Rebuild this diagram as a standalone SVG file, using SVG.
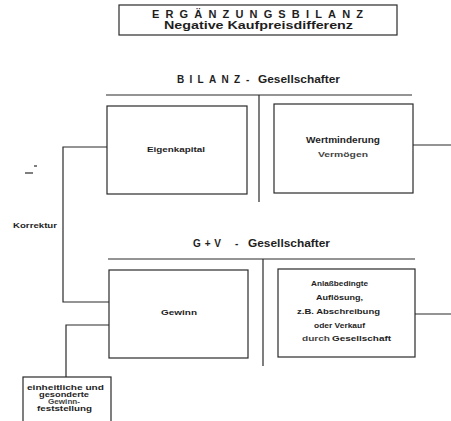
<svg xmlns="http://www.w3.org/2000/svg" width="451" height="421" viewBox="0 0 451 421">
<style>
.bx{fill:#fff;stroke:#2a2a2a;stroke-width:1.2}
.ln{fill:none;stroke:#2a2a2a;stroke-width:1.2}
.t{font-family:"Liberation Sans",Arial,sans-serif;font-weight:bold;fill:#1e1e1e}
.s10{font-size:10px}
.s9{font-size:9px}
.s8{font-size:8px}
.s7{font-size:7px}
.s11{font-size:11px}
.lt{fill:#444}
</style>
<rect width="451" height="421" fill="#fff"/>
<g id="title">
<rect class="bx" x="119" y="5" width="278" height="30"/>
<text class="t s11" x="152" y="18" textLength="211" lengthAdjust="spacing">ERGÄNZUNGSBILANZ</text>
<text class="t s11" x="164" y="29" textLength="189" lengthAdjust="spacingAndGlyphs">Negative Kaufpreisdifferenz</text>
</g>
<g id="heading-bilanz">
<text class="t s10" y="83"><tspan x="177" textLength="63" lengthAdjust="spacing">BILANZ</tspan><tspan x="246">-</tspan><tspan x="258" textLength="82" lengthAdjust="spacingAndGlyphs">Gesellschafter</tspan></text>
</g>
<g id="heading-guv">
<text class="t s10" y="247"><tspan x="193" textLength="28" lengthAdjust="spacing">G + V</tspan><tspan x="235">-</tspan><tspan x="248" textLength="82" lengthAdjust="spacingAndGlyphs">Gesellschafter</tspan></text>
</g>
<g id="connectors">
<path class="ln" d="M106 95H412M259 95V202"/>
<path class="ln" d="M108 259H415M263 259V366"/>
<path class="ln" d="M413 145H451M415 314H451"/>
<path class="ln" d="M107 147H63V302H109"/>
<path class="ln" d="M109 325H66V377"/>
<path d="M25 173H33M34 166H37" stroke="#555" stroke-width="1.5"/>
</g>
<g id="eigenkapital">
<rect class="bx" x="107" y="106" width="140" height="88"/>
<text class="t s8" x="147" y="152" textLength="58" lengthAdjust="spacingAndGlyphs">Eigenkapital</text>
</g>
<g id="wertminderung">
<rect class="bx" x="274" y="104" width="139" height="89"/>
<text class="t s9" x="306" y="143" textLength="74" lengthAdjust="spacingAndGlyphs">Wertminderung</text>
<text class="t s8 lt" x="318" y="157" textLength="50" lengthAdjust="spacingAndGlyphs">Vermögen</text>
</g>
<g id="korrektur">
<text class="t s8" x="13" y="228" textLength="44" lengthAdjust="spacingAndGlyphs">Korrektur</text>
</g>
<g id="gewinn">
<rect class="bx" x="109" y="270" width="139" height="88"/>
<text class="t s8" x="161" y="315" textLength="36" lengthAdjust="spacingAndGlyphs">Gewinn</text>
</g>
<g id="aufloesung">
<rect class="bx" x="278" y="269" width="137" height="88"/>
<text class="t s8" x="311" y="286" textLength="57" lengthAdjust="spacingAndGlyphs">Anlaßbedingte</text>
<text class="t s8" x="316" y="300" textLength="47" lengthAdjust="spacingAndGlyphs">Auflösung,</text>
<text class="t s8" x="297" y="314" textLength="83" lengthAdjust="spacingAndGlyphs">z.B. Abschreibung</text>
<text class="t s8" x="314" y="328" textLength="51" lengthAdjust="spacingAndGlyphs">oder Verkauf</text>
<text class="t s8" y="341"><tspan class="lt" x="302" textLength="28" lengthAdjust="spacingAndGlyphs">durch</tspan><tspan x="332" textLength="59" lengthAdjust="spacingAndGlyphs">Gesellschaft</tspan></text>
</g>
<g id="feststellung">
<rect class="bx" x="23" y="377" width="88" height="50"/>
<text class="t s7" x="27" y="390" textLength="77" lengthAdjust="spacingAndGlyphs">einheitliche und</text>
<text class="t s7" x="39" y="397" textLength="50" lengthAdjust="spacingAndGlyphs">gesonderte</text>
<text class="t s7 lt" x="48" y="404" textLength="32" lengthAdjust="spacingAndGlyphs">Gewinn-</text>
<text class="t s7" x="37" y="411" textLength="55" lengthAdjust="spacingAndGlyphs">feststellung</text>
</g>
</svg>
